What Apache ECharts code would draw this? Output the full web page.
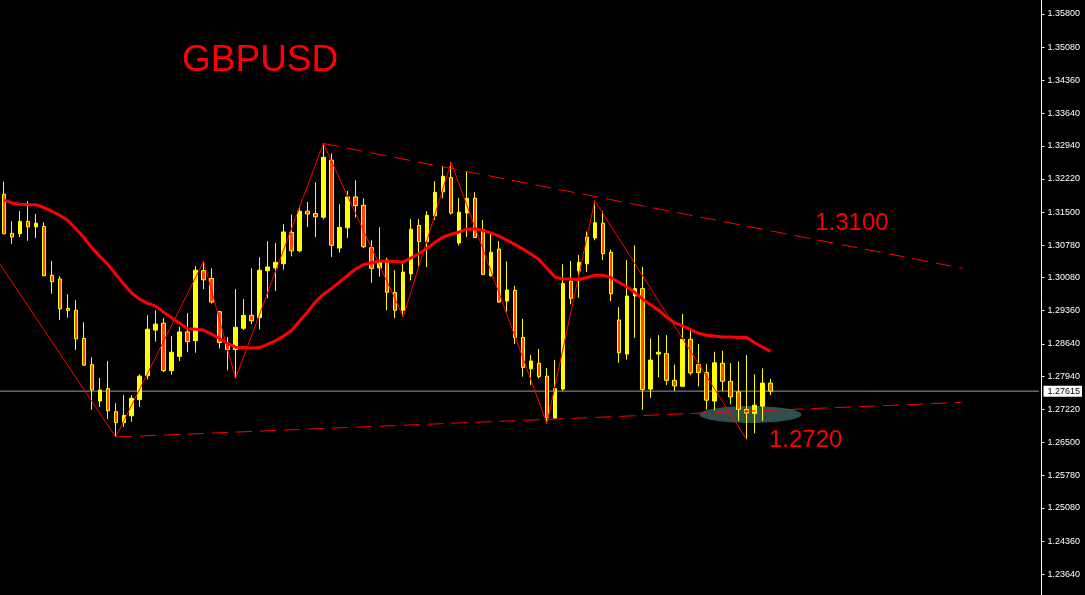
<!DOCTYPE html>
<html><head><meta charset="utf-8">
<script src="https://cdn.jsdelivr.net/npm/echarts@6/dist/echarts.min.js"></script>
<style>html,body{margin:0;padding:0;background:#000;}#c{width:1085px;height:595px;}</style>
</head><body><div id="c"></div>
<script>
const opens = [1.3189,1.3104,1.3103,1.3130,1.3118,1.3119,1.3013,1.3005,1.2941,1.2937,
1.2876,1.2819,1.2740,1.2767,1.2717,1.2693,1.2708,1.2743,1.2795,1.2894,
1.2909,1.2806,1.2837,1.2890,1.2871,1.3023,1.3006,1.2934,1.2865,1.2852,
1.2898,1.2926,1.2921,1.3023,1.3029,1.3038,1.3106,1.3066,1.3152,1.3147,
1.3139,1.3263,1.3072,1.3116,1.3183,1.3165,1.3073,1.3029,1.3046,1.2976,
1.2937,1.3016,1.3121,1.3086,1.3142,1.3194,1.3225,1.3083,1.3148,1.3180,
1.3112,1.3012,1.3070,1.2957,1.2980,1.2878,1.2810,1.2822,1.2794,1.2703,
1.2766,1.3000,1.3022,1.3038,1.3094,1.3126,1.3063,1.2916,1.2842,1.2968,
1.2984,1.2766,1.2842,1.2843,1.2785,1.2772,1.2874,1.2819,1.2802,1.2740,
1.2822,1.2783,1.2760,1.2722,1.2713,1.2729,1.2779];
const closes = [1.3103,1.3096,1.3130,1.3118,1.3126,1.3012,1.2999,1.2940,1.2937,1.2875,
1.2818,1.2764,1.2764,1.2719,1.2693,1.2709,1.2746,1.2794,1.2896,1.2907,
1.2806,1.2846,1.2890,1.2869,1.3024,1.3003,1.2955,1.2867,1.2852,1.2900,
1.2926,1.2914,1.3024,1.3031,1.3041,1.3107,1.3066,1.3152,1.3146,1.3140,
1.3269,1.3078,1.3117,1.3183,1.3164,1.3075,1.3028,1.3044,1.2976,1.2937,
1.3020,1.3113,1.3086,1.3143,1.3193,1.3228,1.3148,1.3150,1.3180,1.3095,
1.3015,1.3063,1.2955,1.2981,1.2878,1.2813,1.2827,1.2793,1.2704,1.2767,
1.2995,1.2963,1.3041,1.3096,1.3127,1.3060,1.2973,1.2845,1.2968,1.2984,
1.2765,1.2829,1.2846,1.2785,1.2773,1.2874,1.2801,1.2802,1.2742,1.2823,
1.2783,1.2749,1.2722,1.2714,1.2731,1.2779,1.27615];
const lows = [1.3102,1.3081,1.3096,1.3088,1.3094,1.3011,1.2973,1.2916,1.2921,1.2851,
1.2816,1.2721,1.2727,1.2701,1.2662,1.2684,1.2695,1.2727,1.2787,1.2869,
1.2803,1.2797,1.2827,1.2846,1.2845,1.2983,1.2952,1.2854,1.2807,1.2789,
1.2894,1.2907,1.2895,1.2963,1.2979,1.3025,1.3054,1.3063,1.3118,1.3096,
1.3134,1.3053,1.3062,1.3094,1.3138,1.3072,1.2997,1.3010,1.2937,1.2920,
1.2923,1.3002,1.3030,1.3031,1.3133,1.3180,1.3145,1.3078,1.3096,1.3094,
1.3013,1.3010,1.2953,1.2934,1.2864,1.2793,1.2775,1.2789,1.2691,1.2701,
1.2762,1.2950,1.2964,1.3020,1.3089,1.3046,1.2957,1.2823,1.2830,1.2877,
1.2721,1.2747,1.2792,1.2775,1.2762,1.2771,1.2796,1.2772,1.2722,1.2720,
1.2762,1.2733,1.2697,1.2657,1.2670,1.2697,1.2753];
const highs = [1.3216,1.3130,1.3152,1.3174,1.3146,1.3128,1.3044,1.3011,1.2972,1.2959,
1.2911,1.2835,1.2790,1.2827,1.2735,1.2753,1.2753,1.2798,1.2926,1.2937,
1.2920,1.2881,1.2901,1.2931,1.3033,1.3043,1.3028,1.2936,1.2879,1.2983,
1.2961,1.3028,1.3052,1.3087,1.3083,1.3124,1.3145,1.3164,1.3172,1.3215,
1.3299,1.3277,1.3167,1.3196,1.3219,1.3180,1.3089,1.3117,1.3051,1.3024,
1.3039,1.3135,1.3135,1.3152,1.3217,1.3250,1.3258,1.3181,1.3238,1.3193,
1.3133,1.3106,1.3087,1.3043,1.2990,1.2918,1.2840,1.2853,1.2812,1.2829,
1.3037,1.3044,1.3057,1.3108,1.3175,1.3152,1.3069,1.2944,1.3046,1.3078,
1.3031,1.2876,1.2883,1.2883,1.2819,1.2929,1.2897,1.2864,1.2820,1.2847,
1.2849,1.2822,1.2826,1.2840,1.2798,1.2811,1.2788];
const movingAverage = [1.3176,1.3170,1.3167,1.3166,1.3166,1.3160,1.3152,1.3143,1.3132,1.3114,
1.3095,1.3073,1.3054,1.3037,1.3015,1.2994,1.2974,1.2961,1.2952,1.2946,
1.2933,1.2921,1.2909,1.2897,1.2896,1.2894,1.2885,1.2876,1.2865,1.2857,
1.2856,1.2855,1.2856,1.2863,1.2871,1.2881,1.2893,1.2913,1.2933,1.2955,
1.2972,1.2984,1.2998,1.3012,1.3026,1.3036,1.3040,1.3044,1.3044,1.3043,
1.3042,1.3051,1.3060,1.3072,1.3085,1.3096,1.3102,1.3107,1.3113,1.3114,
1.3110,1.3105,1.3098,1.3089,1.3080,1.3070,1.3059,1.3047,1.3028,1.3009,
1.3005,1.3005,1.3004,1.3008,1.3013,1.3013,1.3008,1.2998,1.2988,1.2976,
1.2961,1.2949,1.2937,1.2922,1.2910,1.2903,1.2895,1.2887,1.2883,1.2881,
1.2879,1.2879,1.2878,1.2878,1.2867,1.2857,1.2848];

const slotCount = 130;
const categories = Array.from({length: slotCount}, (_, i) => String(i));
const tickValues = [1.23640,1.24360,1.25080,1.25780,1.26500,1.27220,1.27940,1.28640,1.29360,
1.30080,1.30780,1.31500,1.32220,1.32940,1.33640,1.34360,1.35080,1.35800];
const currentPrice = 1.27615;
const zigzag = [[-0.5,1.3037],[14,1.2662],[25,1.3043],[29,1.2789],[40,1.3299],[50,1.2923],
[56,1.3258],[68,1.2691],[74,1.3175],[93,1.2657]];
const upperTrend = [[40,1.3299],[120.1,1.3028]];
const lowerTrend = [[14,1.2662],[119.9,1.2737]];
const highlight = [[93.5,1.2711]];
const annotationTexts = ['1.3100','1.2720'];
const annotationPoints = [[106.2,1.3125],[100.4,1.2654]];

const candleData = opens.map((o, i) => [o, closes[i], lows[i], highs[i]]);

const chart = echarts.init(document.getElementById('c'), null, {renderer: 'canvas'});
const RED = '#ff0000';
chart.setOption({
  animation: false,
  backgroundColor: '#000000',
  title: {
    text: 'GBPUSD', left: 182, top: 42, padding: 0,
    textStyle: {color: RED, fontSize: 37, fontWeight: 'normal', fontFamily: 'Liberation Sans'}
  },
  grid: {left: 0, right: 45, top: 0, bottom: 0},
  xAxis: [
    {type: 'category', data: categories, boundaryGap: true, show: false},
    {type: 'value', min: -0.5, max: slotCount - 0.5, show: false}
  ],
  yAxis: {
    type: 'value', position: 'right', offset: 3.5, min: 1.23191, max: 1.36104,
    axisLine: {show: true, onZero: false, lineStyle: {color: '#ffffff', width: 1}},
    axisTick: {show: true, length: 3, lineStyle: {color: '#ffffff'}, customValues: tickValues},
    splitLine: {show: false},
    axisLabel: {
      margin: 2,
      customValues: tickValues.concat([currentPrice]),
      formatter: v => Math.abs(v - currentPrice) < 1e-9 ? '{cur|' + v.toFixed(5) + '}' : '{n|' + v.toFixed(5) + '}',
      rich: {
        n: {color: '#ffffff', fontSize: 9, fontFamily: 'Liberation Sans', padding: [0, 0, 0, 4]},
        cur: {color: '#000000', backgroundColor: '#ffffff', fontSize: 9, fontFamily: 'Liberation Sans', padding: [1, 2, 1, 4]}
      }
    }
  },
  series: [
    {
      type: 'custom', xAxisIndex: 1, yAxisIndex: 0, z: 1, silent: true,
      data: highlight,
      renderItem: (params, api) => {
        const c = api.coord([api.value(0), api.value(1)]);
        return {type: 'ellipse', shape: {cx: c[0], cy: c[1], rx: 51, ry: 8.5}, style: {fill: '#2f4f4f'}};
      }
    },
    {
      type: 'line', xAxisIndex: 1, yAxisIndex: 0, z: 1, silent: true, clip: false,
      data: [[-0.5, currentPrice], [slotCount, currentPrice]],
      symbol: 'none', lineStyle: {color: '#9a9a9a', width: 1}
    },
    {
      type: 'candlestick', xAxisIndex: 0, yAxisIndex: 0, z: 2, barWidth: 4,
      data: candleData,
      itemStyle: {color: '#ffff00', color0: '#ff4500', borderColor: '#ffff00', borderColor0: '#ffff00', borderWidth: 1}
    },
    {
      type: 'line', xAxisIndex: 0, yAxisIndex: 0, z: 3, silent: true,
      data: movingAverage, symbol: 'none', lineStyle: {color: RED, width: 3}
    },
    {
      type: 'line', xAxisIndex: 1, yAxisIndex: 0, z: 3, silent: true,
      data: zigzag, symbol: 'none', lineStyle: {color: RED, width: 1}
    },
    {
      type: 'line', xAxisIndex: 1, yAxisIndex: 0, z: 3, silent: true,
      data: upperTrend, symbol: 'none', lineStyle: {color: RED, width: 1, type: [16, 8]}
    },
    {
      type: 'line', xAxisIndex: 1, yAxisIndex: 0, z: 3, silent: true,
      data: lowerTrend, symbol: 'none', lineStyle: {color: RED, width: 1, type: [16, 8]}
    },
    {
      type: 'custom', xAxisIndex: 1, yAxisIndex: 0, z: 4, silent: true,
      data: annotationPoints,
      renderItem: (params, api) => {
        const c = api.coord([api.value(0), api.value(1)]);
        return {type: 'text', x: c[0], y: c[1], style: {
          text: annotationTexts[params.dataIndex], fill: RED, fontSize: 24,
          fontFamily: 'Liberation Sans', align: 'center', verticalAlign: 'middle'}};
      }
    }
  ]
});
</script></body></html>
